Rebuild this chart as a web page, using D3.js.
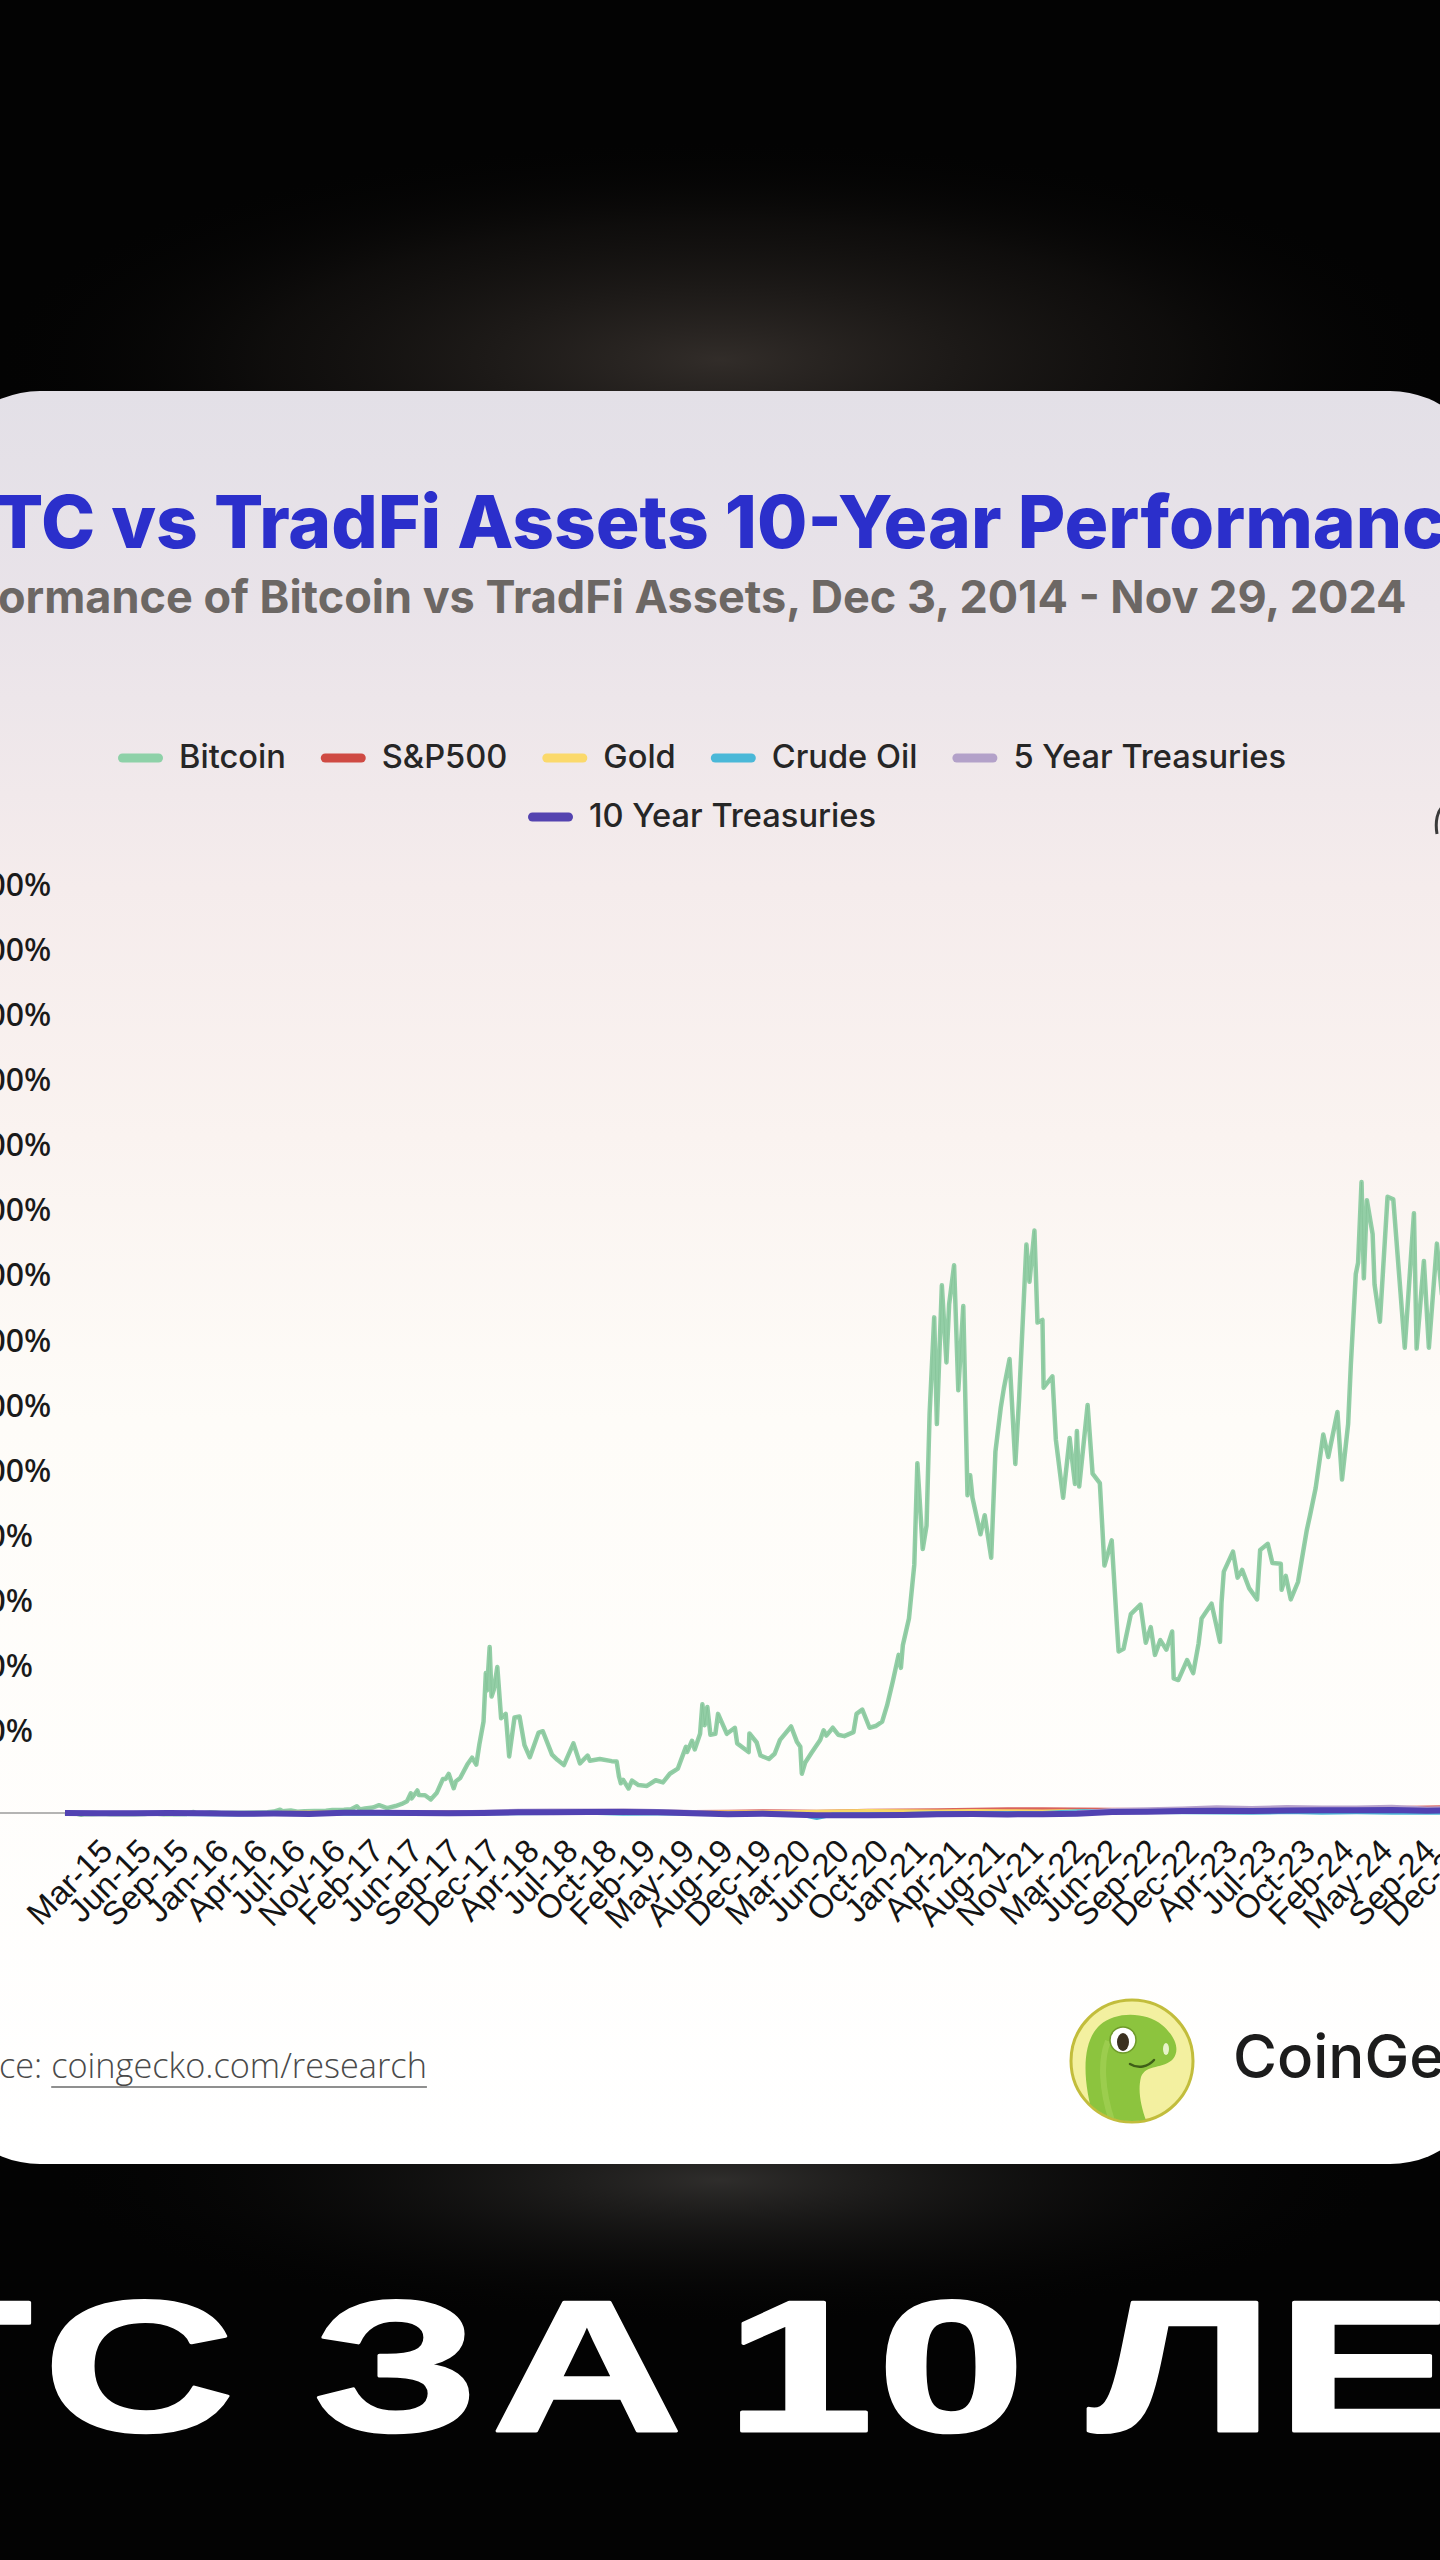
<!DOCTYPE html>
<html><head><meta charset="utf-8">
<script src="https://cdn.jsdelivr.net/npm/d3@7"></script>
<style>html,body{margin:0;padding:0;background:#000;}svg{display:block;}</style>
</head><body>
<svg id="c" width="1440" height="2560"></svg>
<script>
// ---------------- DATA ----------------
const seriesNames = ["Bitcoin","S&P500","Gold","Crude Oil","5 Year Treasuries","10 Year Treasuries"];
const btcBasePrice = 375;
const btcDates = ["2014-12-03","2014-12-17","2015-01-01","2015-01-14","2015-01-25","2015-02-10","2015-02-28","2015-03-11","2015-03-31","2015-04-14","2015-05-01","2015-06-01","2015-06-30","2015-07-12","2015-08-01","2015-08-18","2015-09-15","2015-10-15","2015-11-04","2015-11-11","2015-12-01","2015-12-17","2016-01-01","2016-01-15","2016-02-15","2016-03-15","2016-04-15","2016-05-15","2016-06-01","2016-06-17","2016-06-23","2016-07-15","2016-08-02","2016-08-20","2016-09-15","2016-10-15","2016-11-01","2016-12-01","2016-12-20","2017-01-04","2017-01-12","2017-01-25","2017-02-15","2017-03-03","2017-03-24","2017-04-15","2017-05-01","2017-05-15","2017-05-25","2017-05-27","2017-06-11","2017-06-15","2017-07-01","2017-07-16","2017-08-01","2017-08-17","2017-08-24","2017-09-01","2017-09-14","2017-09-20","2017-10-01","2017-10-20","2017-11-01","2017-11-12","2017-11-20","2017-12-01","2017-12-07","2017-12-10","2017-12-17","2017-12-22","2017-12-28","2018-01-06","2018-01-16","2018-01-28","2018-02-06","2018-02-20","2018-03-05","2018-03-18","2018-04-01","2018-04-24","2018-05-05","2018-05-29","2018-06-12","2018-06-29","2018-07-24","2018-08-10","2018-08-30","2018-09-05","2018-10-01","2018-11-01","2018-11-14","2018-11-20","2018-11-25","2018-12-01","2018-12-15","2018-12-24","2019-01-10","2019-02-01","2019-02-24","2019-03-15","2019-04-02","2019-04-23","2019-05-14","2019-05-17","2019-05-30","2019-06-06","2019-06-20","2019-06-26","2019-07-02","2019-07-09","2019-07-17","2019-07-30","2019-08-06","2019-08-29","2019-09-19","2019-09-25","2019-10-25","2019-10-27","2019-11-15","2019-11-25","2019-12-17","2020-01-01","2020-01-15","2020-02-13","2020-02-28","2020-03-08","2020-03-12","2020-03-21","2020-04-06","2020-04-29","2020-05-08","2020-05-15","2020-06-01","2020-06-15","2020-07-01","2020-07-25","2020-08-02","2020-08-17","2020-09-05","2020-09-21","2020-10-08","2020-10-21","2020-11-05","2020-11-20","2020-11-26","2020-12-01","2020-12-17","2020-12-31","2021-01-08","2021-01-22","2021-02-01","2021-02-09","2021-02-21","2021-02-28","2021-03-13","2021-03-25","2021-04-01","2021-04-14","2021-04-25","2021-05-08","2021-05-19","2021-05-26","2021-06-01","2021-06-22","2021-07-03","2021-07-20","2021-07-31","2021-08-14","2021-08-22","2021-09-06","2021-09-21","2021-10-01","2021-10-20","2021-10-28","2021-11-10","2021-11-18","2021-12-01","2021-12-04","2021-12-27","2022-01-05","2022-01-24","2022-02-10","2022-02-24","2022-03-01","2022-03-07","2022-03-29","2022-04-11","2022-04-30","2022-05-12","2022-05-31","2022-06-13","2022-06-18","2022-07-01","2022-07-20","2022-08-14","2022-08-28","2022-09-10","2022-09-21","2022-10-05","2022-10-21","2022-11-05","2022-11-09","2022-11-21","2022-12-14","2022-12-30","2023-01-13","2023-01-21","2023-02-16","2023-03-10","2023-03-14","2023-03-20","2023-04-13","2023-04-25","2023-05-07","2023-05-25","2023-06-15","2023-06-23","2023-07-13","2023-07-25","2023-08-16","2023-08-18","2023-08-29","2023-09-11","2023-09-30","2023-10-23","2023-10-31","2023-11-15","2023-12-05","2023-12-18","2024-01-11","2024-01-23","2024-02-08","2024-02-15","2024-02-28","2024-03-05","2024-03-14","2024-03-20","2024-03-28","2024-04-12","2024-04-17","2024-05-01","2024-05-21","2024-06-05","2024-06-24","2024-07-05","2024-07-29","2024-08-05","2024-08-24","2024-09-06","2024-09-27","2024-10-10","2024-10-29","2024-11-05","2024-11-13","2024-11-22","2024-11-29"];
const btcPrices = [375,320,314,178,255,220,254,296,244,219,232,223,263,310,281,225,230,255,490,310,362,455,434,375,407,415,430,457,537,760,580,665,530,580,607,640,730,753,795,1150,780,895,1008,1275,935,1180,1420,1725,2650,2050,2970,2440,2420,1930,2720,4300,4300,4890,3230,4030,4400,6000,6750,5950,8250,10900,16500,14500,19500,13800,14600,17200,11300,11800,6900,11400,11500,8200,6800,9650,9800,7100,6500,5900,8400,6100,7000,6400,6600,6350,6300,4600,3800,4200,3200,4100,3600,3500,4150,3900,4900,5500,8000,7400,8700,7700,9500,12900,10500,12600,9400,9500,11800,9500,10200,8400,7400,9550,8500,7000,6600,7200,8800,10350,8600,8000,4900,6200,7300,8800,9900,9300,10200,9400,9230,9700,11800,12300,10200,10400,10900,12800,15600,18600,17100,19700,22800,29000,40700,30800,33500,46400,57500,45200,61200,52300,59000,63500,49100,58800,37000,39300,36700,32500,34700,29800,42000,47100,49300,52700,40600,48200,65900,61600,67500,56900,57200,49400,50700,43400,36700,43600,38300,44400,38000,47400,39500,38400,28900,31800,22400,19000,19300,23300,24400,20000,21800,18600,20300,19200,21300,15900,15700,18000,16500,19900,22800,24500,20100,24600,28200,30500,27500,28400,26300,25000,30700,31400,29200,29100,26100,27700,25000,27000,33000,34600,37800,44000,41400,46600,38800,45200,52000,62500,63800,73100,62000,71000,67100,61300,57000,71400,71100,60300,54000,69500,53900,64000,54000,66000,60200,72700,68500,90500,98800,97400];

const tradDates = ["2014-12-03","2015-03-01","2015-06-01","2015-09-01","2015-12-01","2016-03-01","2016-06-01","2016-09-01","2016-12-01","2017-03-01","2017-06-01","2017-09-01","2017-12-01","2018-03-01","2018-06-01","2018-09-01","2018-12-01","2019-03-01","2019-06-01","2019-09-01","2019-12-01","2020-03-01","2020-04-20","2020-06-01","2020-09-01","2020-12-01","2021-03-01","2021-06-01","2021-09-01","2021-12-01","2022-03-01","2022-06-01","2022-09-01","2022-12-01","2023-03-01","2023-06-01","2023-09-01","2023-12-01","2024-03-01","2024-06-01","2024-09-01","2024-11-29"];
const spxPct  = [0,1.5,1.8,-7.7,1.4,-4.6,1.2,4.6,5.6,15.5,17.2,19.4,27.4,29.1,31.8,39.9,33.1,35.1,32.3,40.1,50.1,49,36.1,47.3,70.0,76.6,88.1,102.6,118.1,117.6,107.6,97.7,91.2,96.5,90.5,103.5,117.7,121.6,147.7,154.7,172.3,190.8];
const goldPct = [0,0.8,-0.8,-5,-11.3,2.9,1.3,9.2,-2.5,4,5.4,10,6.5,9.8,8.2,0,1.7,9.4,8.8,26.7,22,32,41,45,64,51,44,59,51,49,62,54,42.5,50,53,63.5,61.7,70,73.6,94,108,121];
const oilPct  = [0,-26,-10.4,-32.8,-37.6,-48.7,-26.9,-33.3,-23.9,-19.7,-27.9,-29.6,-12.8,-8,0,4.2,-20.9,-16.7,-20.1,-17.9,-17.6,-30.1,-156,-47.2,-36.4,-33.6,-9.6,1,2.4,-2.1,54.3,72.1,29.3,21.2,16,4.6,27.6,10.6,19.3,10.7,9.9,1.5];
const ust5Pct = [0,0.6,3.8,-3.8,2.5,-20.6,-14.4,-25,14.4,26.3,12.5,6.3,33.8,64.4,71.3,71.3,75.6,55.6,20,-16.3,1.3,-41.3,-77.5,-80.6,-83.1,-73.8,-55.6,-49.4,-51.3,-26.3,6.9,82.5,109.4,133.8,170.6,142.5,173.1,158.8,161.3,181.9,131.9,153.1];
const ust10Pct= [0,-8.8,-4.4,-3.5,-5.7,-19.7,-18.9,-30.7,7.5,7.9,-3.1,-7,3.5,23.2,26.8,27.2,31.1,19.3,-6.1,-35.5,-21.9,-50.4,-72.8,-71.1,-70.2,-59.2,-36.8,-30.3,-42.5,-37.3,-24.6,28.9,39.9,58.3,71.9,59.6,79.8,85.1,83.8,92.5,68.4,83.3];

const yTickValues = [0,2000,4000,6000,8000,10000,12000,14000,16000,18000,20000,22000,24000,26000,28000];
const xTickLabels = ["Mar-15","Jun-15","Sep-15","Jan-16","Apr-16","Jul-16","Nov-16","Feb-17","Jun-17","Sep-17","Dec-17","Apr-18","Jul-18","Oct-18","Feb-19","May-19","Aug-19","Dec-19","Mar-20","Jun-20","Oct-20","Jan-21","Apr-21","Aug-21","Nov-21","Mar-22","Jun-22","Sep-22","Dec-22","Apr-23","Jul-23","Oct-23","Feb-24","May-24","Sep-24","Dec-24"];
const xTickDates = ["2015-03-15","2015-06-24","2015-09-30","2016-01-13","2016-04-23","2016-07-31","2016-11-12","2017-02-21","2017-06-03","2017-09-12","2017-12-23","2018-04-03","2018-07-13","2018-10-23","2019-02-01","2019-05-14","2019-08-23","2019-12-02","2020-03-13","2020-06-22","2020-10-02","2021-01-11","2021-04-22","2021-08-02","2021-11-11","2022-03-01","2022-06-02","2022-09-11","2022-12-22","2023-04-02","2023-07-13","2023-10-22","2024-02-01","2024-05-12","2024-09-01","2024-12-01"];

// ---------------- STYLE ----------------
const lineColors = {"Bitcoin":"#93cea6","S&P500":"#d9625c","Gold":"#f7d766","Crude Oil":"#4ab7d6","5 Year Treasuries":"#b7a2cc","10 Year Treasuries":"#5142b2"};
const swatchColors = ["#8ed1a8","#cf4a43","#fbd96b","#4ab8d8","#b3a1c9","#5443b0"];

const parse = d3.timeParse("%Y-%m-%d");
const svg = d3.select("#c");
const defs = svg.append("defs");

const cardGrad = defs.append("linearGradient").attr("id","cardGrad").attr("x1",0).attr("y1",0).attr("x2",0).attr("y2",1);
[[0,"#e3e0e7"],[0.12,"#e9e3e9"],[0.28,"#f5ecec"],[0.42,"#faf3f0"],[0.58,"#fefcf8"],[1,"#ffffff"]]
  .forEach(s=>cardGrad.append("stop").attr("offset",s[0]).attr("stop-color",s[1]));
const glow = defs.append("radialGradient").attr("id","glow");
glow.append("stop").attr("offset",0).attr("stop-color","#3a3430").attr("stop-opacity",0.85);
glow.append("stop").attr("offset",0.6).attr("stop-color","#1a1715").attr("stop-opacity",0.5);
glow.append("stop").attr("offset",1).attr("stop-color","#000").attr("stop-opacity",0);
const glow2 = defs.append("radialGradient").attr("id","glow2");
glow2.append("stop").attr("offset",0).attr("stop-color","#3a3836").attr("stop-opacity",0.8);
glow2.append("stop").attr("offset",1).attr("stop-color","#000").attr("stop-opacity",0);

svg.append("rect").attr("width",1440).attr("height",2560).attr("fill","#030303");
svg.append("ellipse").attr("cx",720).attr("cy",360).attr("rx",760).attr("ry",230).attr("fill","url(#glow)");
svg.append("ellipse").attr("cx",720).attr("cy",2180).attr("rx",700).attr("ry",150).attr("fill","url(#glow2)");

svg.append("rect").attr("x",-60).attr("y",391).attr("width",1550).attr("height",1773).attr("rx",100).attr("ry",100).attr("fill","url(#cardGrad)");

function fitText(sel, full, prefixLen, visLen, left, right){
  sel.attr("font-size",100).attr("x",0).text(full);
  const n = sel.node();
  const wp = prefixLen ? n.getSubStringLength(0,prefixLen) : 0;
  const wv = n.getSubStringLength(prefixLen, visLen);
  const s = (right-left)/wv;
  sel.attr("font-size",100*s).attr("x", left - wp*s);
  return s*100;
}

const title = svg.append("text").attr("y",548).attr("fill","#2b2fcb")
  .attr("font-family","Inter, 'Noto Sans', sans-serif").attr("font-weight",800);
fitText(title,"BTC vs TradFi Assets 10-Year Performance",1,38,-6,1446);

const sub = svg.append("text").attr("y",613).attr("fill","#6c6764")
  .attr("font-family","Inter, 'Noto Sans', sans-serif").attr("font-weight",700);
{
  const full = "Performance of Bitcoin vs TradFi Assets, Dec 3, 2014 - Nov 29, 2024";
  fitText(sub, full, 4, full.length-4, -2, 1407);
}

// legend
const lg = svg.append("g").attr("font-family","Inter, 'Noto Sans', sans-serif").attr("font-weight",500).attr("fill","#262626");
const legendRows = [[0,1,2,3,4],[5]];
const rowY = [758, 817];
const sw = 45, swGap = 16, itemGap = 35;
const probe = lg.append("text").attr("font-size",30);
const w30 = seriesNames.map(n=>{probe.text(n); return probe.node().getComputedTextLength();});
probe.remove();
const sumRow1 = d3.sum(legendRows[0], i=>w30[i]);
const legendFs = 30*723/sumRow1;
legendRows.forEach((row,ri)=>{
  const tw = row.map(i=>w30[i]*legendFs/30);
  const total = d3.sum(tw) + row.length*(sw+swGap) + (row.length-1)*itemGap;
  let cx = 702 - total/2;
  row.forEach((i,k)=>{
    lg.append("rect").attr("x",cx).attr("y",rowY[ri]-4.5).attr("width",sw).attr("height",9).attr("rx",4.5).attr("fill",swatchColors[i]);
    lg.append("text").attr("x",cx+sw+swGap).attr("y",rowY[ri]+10).attr("font-size",legendFs).text(seriesNames[i]);
    cx += sw+swGap+tw[k]+itemGap;
  });
});
// small dark mark cut at the right edge (part of an icon beyond the frame)
svg.append("path").attr("d","M1444,806 C1437,810 1435,822 1437,834").attr("fill","none").attr("stroke","#3a3a3a").attr("stroke-width",3);

// scales
const x = d3.scaleTime().domain([parse("2014-12-03"), parse("2024-11-29")]).range([65, 1461]);
const y = d3.scaleLinear().domain([0, 28000]).range([1813, 902]);

// y labels (left aligned)
const yl = svg.append("g").attr("font-family","'Noto Sans', 'DejaVu Sans', sans-serif").attr("font-weight",500).attr("font-size",32).attr("fill","#1a1a1a");
const probeY = yl.append("text").text("2000%");
const wRef = probeY.node().getComputedTextLength(); probeY.remove();
const yLabelX = 33 - wRef;
yl.selectAll("text").data(yTickValues).join("text")
  .attr("x", yLabelX).attr("y", d=>y(d)-6).text(d=>d+"%");

// axis line
svg.append("line").attr("x1",-60).attr("x2",1461).attr("y1",y(0)).attr("y2",y(0)).attr("stroke","#9b9b9b").attr("stroke-width",1.5);

// x labels
const xAxis = d3.axisBottom(x).tickValues(xTickDates.map(parse)).tickSize(0)
  .tickFormat((d,i)=>xTickLabels[i]);
const gx = svg.append("g").attr("transform",`translate(0,${y(0)})`).call(xAxis);
gx.select(".domain").remove();
gx.selectAll("text").attr("font-family","'Liberation Sans', Arial, sans-serif").attr("font-size",33).attr("fill","#141414")
  .attr("text-anchor","end").attr("dy",null).attr("y",0).attr("x",0)
  .attr("transform","translate(10,40) rotate(-45)");

// lines
const line = d3.line().x(d=>x(d.date)).y(d=>y(d.v));
const btc = btcDates.map((d,i)=>({date:parse(d), v:(btcPrices[i]/btcBasePrice-1)*100}));
svg.append("path").datum(btc).attr("d",line).attr("fill","none").attr("stroke",lineColors["Bitcoin"]).attr("stroke-width",4.5).attr("stroke-linejoin","round");
svg.append("path").datum(btc).attr("d",line).attr("fill","none").attr("stroke","#7dbd90").attr("stroke-width",0.9).attr("stroke-opacity",0.55);

const trad = [["S&P500",spxPct,4],["Gold",goldPct,4],["Crude Oil",oilPct,4],["5 Year Treasuries",ust5Pct,4.5],["10 Year Treasuries",ust10Pct,6]];
trad.forEach(([name,vals,w])=>{
  const data = tradDates.map((d,i)=>({date:parse(d), v:vals[i]}));
  svg.append("path").datum(data).attr("d",line).attr("fill","none").attr("stroke",lineColors[name]).attr("stroke-width",w).attr("stroke-linejoin","round");
});

// footer: source
const src = svg.append("text").attr("y",2078).attr("fill","#4a4a4a")
  .attr("font-family","'Open Sans', Lato, sans-serif").attr("font-weight",300);
fitText(src,"Source: coingecko.com/research",4,26,-1,427);
{
  const n = src.node();
  const x0 = +src.attr("x");
  const a = x0 + n.getSubStringLength(0,8);
  const b = a + n.getSubStringLength(8,22);
  svg.append("line").attr("x1",a).attr("x2",b).attr("y1",2087).attr("y2",2087).attr("stroke","#6a6a6a").attr("stroke-width",1.6);
}

// CoinGecko logo
const logo = svg.append("g").attr("transform","translate(1132,2061)");
defs.append("clipPath").attr("id","logoClip").append("circle").attr("r",60);
logo.append("circle").attr("r",61).attr("fill","#f3f0a0").attr("stroke","#c2bd3c").attr("stroke-width",3);
const lgi = logo.append("g").attr("clip-path","url(#logoClip)");
lgi.append("path").attr("d","M-34,70 C-50,25 -52,-18 -32,-36 C-16,-50 14,-49 30,-36 C42,-26 49,-12 41,-2 C32,8 14,3 9,16 C5,32 10,50 18,70 Z").attr("fill","#8cc43e");
lgi.append("path").attr("d","M-20,60 C-30,30 -32,0 -24,-20").attr("fill","none").attr("stroke","#a6d45a").attr("stroke-width",6).attr("opacity",0.6);
logo.append("circle").attr("cx",-9).attr("cy",-21).attr("r",13).attr("fill","#fff").attr("stroke","#6e9a2a").attr("stroke-width",1.5);
logo.append("ellipse").attr("cx",-9).attr("cy",-19).attr("rx",6).attr("ry",9).attr("fill","#3b3020");
logo.append("ellipse").attr("cx",34).attr("cy",-12).attr("rx",3).attr("ry",6).attr("fill","#e8f3c8");
logo.append("path").attr("d","M-2,3 C6,8 16,6 22,-1").attr("fill","none").attr("stroke","#3f5f18").attr("stroke-width",2.5).attr("stroke-linecap","round");

svg.append("text").attr("x",1233).attr("y",2078).attr("font-size",60).attr("font-family","Inter, 'Liberation Sans', sans-serif").attr("font-weight",500).attr("fill","#1c1c1c").text("CoinGecko");

// big bottom caption: one text, per-glyph positions, wide & heavy
const capText = "BTC ЗА 10 ЛЕТ";
const capInkStart = [-330,-125,55,230,321,491,680,752,888,1040,1093,1295,1500];
const capLsb = [0.07,0.02,0.045,0,0.03,0,0,0.10,0.04,0,0.02,0.07,0.02];
const capScale = 1.42, capFs = 187;
svg.append("text")
  .attr("font-family","'Liberation Sans', Arial, sans-serif").attr("font-weight",700)
  .attr("font-size",capFs).attr("fill","#ffffff").attr("stroke","#ffffff").attr("stroke-width",3).attr("stroke-linejoin","round")
  .attr("transform",`translate(0,2431) scale(${capScale},1)`)
  .attr("x", capInkStart.map((v,i)=>((v - capLsb[i]*capFs*capScale)/capScale).toFixed(1)).join(" "))
  .attr("y",0)
  .text(capText);
</script>
</body></html>
